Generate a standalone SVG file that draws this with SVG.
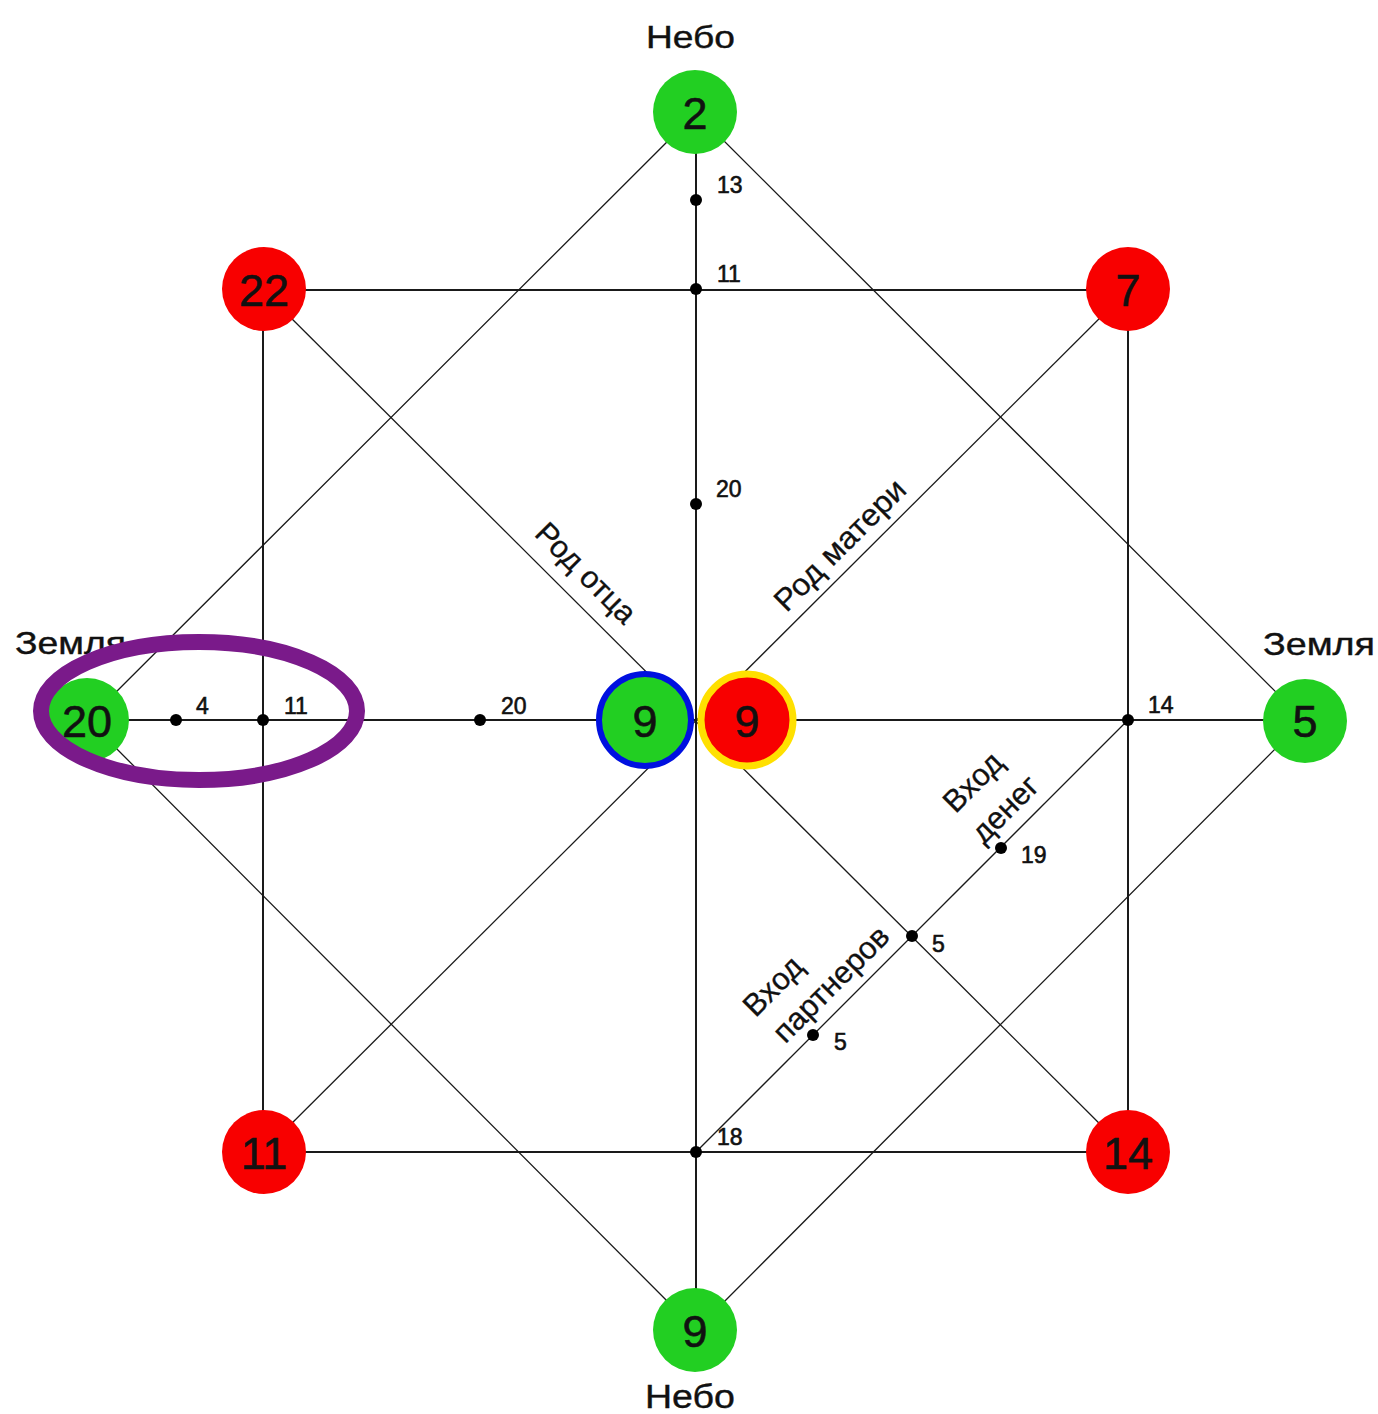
<svg xmlns="http://www.w3.org/2000/svg" width="1378" height="1414" viewBox="0 0 1378 1414">
<style>
text { font-family: "Liberation Sans", Arial, sans-serif; fill: #111; }
.num { font-size: 45px; text-anchor: middle; stroke: #111; stroke-width: 0.6; }
.lbl { font-size: 23px; stroke: #111; stroke-width: 0.6; }
.big { font-size: 32px; stroke: #111; stroke-width: 0.4; }
.rot { font-size: 31px; text-anchor: middle; stroke: #111; stroke-width: 0.3; }
.axis { stroke: #1a1a1a; stroke-width: 2; fill: none; }
.diag { stroke: #1a1a1a; stroke-width: 1.3; fill: none; }
.green { fill: #22cf22; }
.red { fill: #f80000; }
.dot { fill: #000; }
</style>
<rect width="1378" height="1414" fill="#fff"/>
<g id="connectors">
  <path class="axis" d="M696 113 V1330"/>
  <path class="axis" d="M88 720 H1304"/>
  <path class="axis" d="M263 290 H1128 V1152 H263 Z"/>
  <path class="diag" d="M263 290 L1128 1152"/>
  <path class="diag" d="M1128 290 L263 1152"/>
  <path class="diag" d="M696 113 L1304 720 L696 1330 L88 720 Z"/>
  <path class="diag" d="M1128 720 L696 1152"/>
</g>
<g id="points">
  <circle class="dot" cx="696" cy="200" r="6"/>
  <circle class="dot" cx="696" cy="289" r="6"/>
  <circle class="dot" cx="696" cy="504" r="6"/>
  <circle class="dot" cx="176" cy="720" r="6"/>
  <circle class="dot" cx="263" cy="720" r="6"/>
  <circle class="dot" cx="480" cy="720" r="6"/>
  <circle class="dot" cx="1128" cy="720" r="6"/>
  <circle class="dot" cx="1001" cy="848" r="6"/>
  <circle class="dot" cx="912" cy="936" r="6"/>
  <circle class="dot" cx="813" cy="1035" r="6"/>
  <circle class="dot" cx="696" cy="1152" r="6"/>
  <text class="lbl" x="717" y="193">13</text>
  <text class="lbl" x="717" y="282">11</text>
  <text class="lbl" x="716" y="497">20</text>
  <text class="lbl" x="196" y="714">4</text>
  <text class="lbl" x="284" y="714">11</text>
  <text class="lbl" x="501" y="714">20</text>
  <text class="lbl" x="1148" y="713">14</text>
  <text class="lbl" x="1021" y="863">19</text>
  <text class="lbl" x="932" y="952">5</text>
  <text class="lbl" x="834" y="1050">5</text>
  <text class="lbl" x="717" y="1145">18</text>
</g>
<g id="node-top">
  <circle class="green" cx="695" cy="112" r="42"/>
  <text class="num" x="695" y="129">2</text>
  <text class="big" x="646" y="48" textLength="89" lengthAdjust="spacingAndGlyphs">Небо</text>
</g>
<g id="node-bottom">
  <circle class="green" cx="695" cy="1330" r="42"/>
  <text class="num" x="695" y="1347">9</text>
  <text class="big" x="645" y="1408" textLength="90" lengthAdjust="spacingAndGlyphs" style="font-size:34px">Небо</text>
</g>
<g id="node-right">
  <circle class="green" cx="1305" cy="721" r="42"/>
  <text class="num" x="1305" y="737">5</text>
  <text class="big" x="1263" y="655" textLength="112" lengthAdjust="spacingAndGlyphs">Земля</text>
</g>
<g id="node-left">
  <circle class="green" cx="87" cy="720" r="42"/>
  <text class="num" x="87" y="737">20</text>
  <text class="big" x="15" y="654" textLength="111" lengthAdjust="spacingAndGlyphs">Земля</text>
</g>
<g id="node-tl">
  <circle class="red" cx="264" cy="289" r="42"/>
  <text class="num" x="264" y="306">22</text>
</g>
<g id="node-tr">
  <circle class="red" cx="1128" cy="289" r="42"/>
  <text class="num" x="1128" y="306">7</text>
</g>
<g id="node-bl">
  <circle class="red" cx="264" cy="1152" r="42"/>
  <text class="num" x="264" y="1169">11</text>
</g>
<g id="node-br">
  <circle class="red" cx="1128" cy="1152" r="42"/>
  <text class="num" x="1128" y="1169">14</text>
</g>
<g id="node-center-left">
  <circle class="green" cx="645" cy="720" r="46" stroke="#0010e0" stroke-width="6"/>
  <text class="num" x="645" y="737">9</text>
</g>
<g id="node-center-right">
  <circle class="red" cx="747" cy="720" r="46" stroke="#ffe000" stroke-width="7"/>
  <text class="num" x="747" y="737">9</text>
</g>
<g id="labels">
  <text class="rot" transform="translate(585,574) rotate(45)" y="9">Род отца</text>
  <text class="rot" transform="translate(841,546) rotate(-45)" y="9" textLength="172" lengthAdjust="spacingAndGlyphs">Род матери</text>
  <text class="rot" transform="translate(974,783) rotate(-45)" y="9">Вход</text>
  <text class="rot" transform="translate(1006,810) rotate(-45)" y="9">денег</text>
  <text class="rot" transform="translate(774,987) rotate(-45)" y="9">Вход</text>
  <text class="rot" transform="translate(832,985) rotate(-45)" y="9">партнеров</text>
</g>
<g id="highlight">
  <ellipse cx="199" cy="711" rx="158" ry="69" fill="none" stroke="#7a1a8a" stroke-width="16"/>
</g>
</svg>
